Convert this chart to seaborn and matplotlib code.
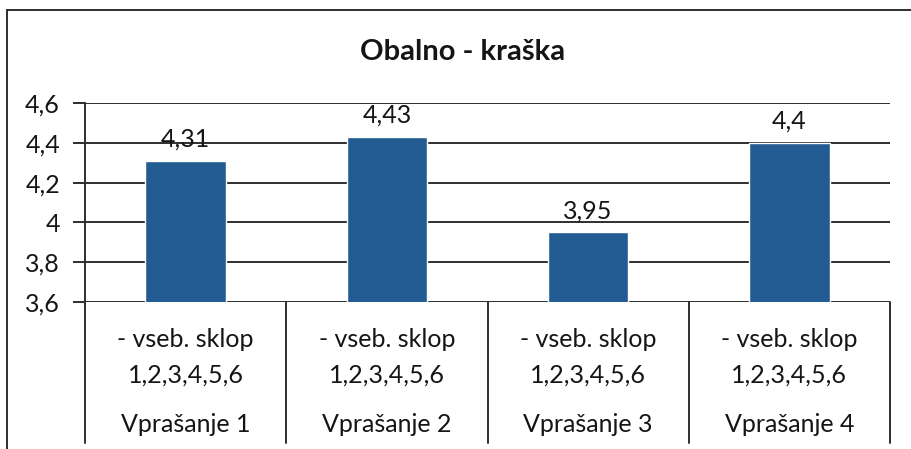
import matplotlib
matplotlib.use("Agg")
import matplotlib.pyplot as plt
import seaborn as sns
import pandas as pd
from matplotlib.lines import Line2D
from matplotlib.transforms import blended_transform_factory

# chart data
questions = ["Vprašanje 1", "Vprašanje 2", "Vprašanje 3", "Vprašanje 4"]
sub_line1 = "- vseb. sklop"
sub_line2 = "1,2,3,4,5,6"
scores = [4.31, 4.43, 3.95, 4.4]
y_ticks = [3.6, 3.8, 4.0, 4.2, 4.4, 4.6]
y_tick_labels = ["3,6", "3,8", "4", "4,2", "4,4", "4,6"]

bar_color = "#235B93"
line_color = "#2e2e2e"
text_color = "#151515"
fs = 18

sns.set_theme(style="white")
plt.rcParams["font.family"] = ["Lato", "DejaVu Sans"]

df = pd.DataFrame({"question": questions, "score": scores})

fig = plt.figure(figsize=(9.12, 4.49), dpi=100)
ax = fig.add_axes([0.0932, 0.3274, 0.8827, 0.4432])

sns.barplot(data=df, x="question", y="score", color=bar_color,
            width=0.4, saturation=1, ax=ax)

ax.set_ylim(3.6, 4.6)
ax.set_xlim(-0.5, len(questions) - 0.5)
ax.set_yticks(y_ticks)
ax.set_yticklabels(y_tick_labels, fontsize=fs, color=text_color)
ax.set_xlabel("")
ax.set_ylabel("")

# horizontal gridlines
for t in y_ticks:
    ax.axhline(t, color=line_color, linewidth=1.4, zorder=0)

for s in ["top", "right", "bottom"]:
    ax.spines[s].set_visible(False)
ax.spines["left"].set_color(line_color)
ax.spines["left"].set_linewidth(1.4)
ax.tick_params(axis="y", which="both", left=True, length=9, width=1.4,
               color=line_color, pad=9)

# multi-level category labels
ax.set_xticks(range(len(questions)))
ax.set_xticklabels([""] * len(questions))
ax.tick_params(axis="x", bottom=False)
trans = blended_transform_factory(ax.transData, ax.transAxes)
for i, q in enumerate(questions):
    ax.text(i, -0.19, sub_line1, transform=trans, ha="center", va="center",
            fontsize=fs, color=text_color)
    ax.text(i, -0.365, sub_line2, transform=trans, ha="center", va="center",
            fontsize=fs, color=text_color)
    ax.text(i, -0.615, q, transform=trans, ha="center", va="center",
            fontsize=fs, color=text_color)

# category separators below the axis
for xb in [i - 0.5 for i in range(len(questions) + 1)]:
    ax.add_line(Line2D([xb, xb], [0, -0.71], transform=trans,
                       color=line_color, linewidth=1.4, clip_on=False))

# value labels
for i, v in enumerate(scores):
    lbl = f"{v:g}".replace(".", ",")
    ax.text(i, v + 0.05, lbl, ha="center", va="bottom", fontsize=fs,
            color=text_color)

fig.text(463 / 912, 1 - 52 / 449, "Obalno - kraška", fontsize=21,
         fontweight="bold", color=text_color, ha="center", va="center")

# outer chart frame (scanned, cropped at right and bottom)
fig.add_artist(Line2D([7 / 912, 7 / 912], [0, 1 - 10 / 449],
                      transform=fig.transFigure, color=line_color, linewidth=1.4))
fig.add_artist(Line2D([7 / 912, 1], [1 - 10 / 449, 1 - 10 / 449],
                      transform=fig.transFigure, color=line_color, linewidth=1.4))

fig.savefig("out.png", dpi=100)
